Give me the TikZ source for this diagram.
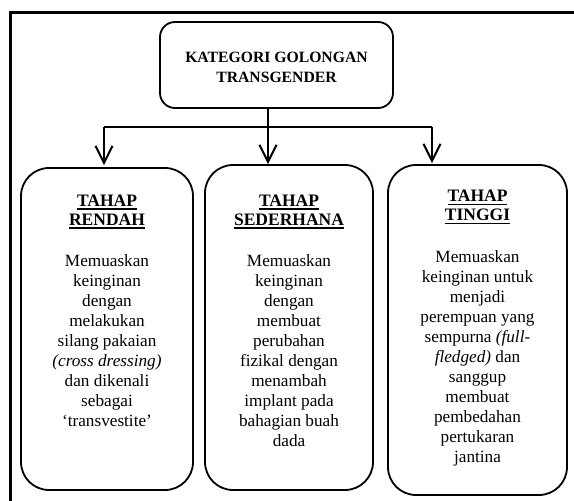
\documentclass[tikz,border=0pt]{standalone}
\usepackage{fontspec}
\setmainfont{Liberation Serif}
\usetikzlibrary{arrows.meta}
\newcommand\tul[1]{\leavevmode\vtop{\hbox{#1}\kern1.8pt\hrule height 1.6pt}}
\begin{document}
\begin{tikzpicture}[x=1pt,y=-1pt,
  box/.style={draw, line width=1.8pt, rounded corners=28pt, inner sep=0pt},
  conn/.style={line width=2pt},
  arr/.style={conn, -{Straight Barb[length=17pt,width=17pt,line width=2pt]}},
  ttl/.style={anchor=north, inner sep=0pt, align=center, font=\fontsize{17.5}{19}\selectfont\bfseries},
  body/.style={anchor=north, inner sep=0pt, align=center, font=\fontsize{17.2}{20}\selectfont}]
\useasboundingbox (0,0) rectangle (574,501);
\fill[white] (0,0) rectangle (574,501);
\draw[line width=3pt] (10,505) -- (10,12) -- (580,12);
% top box
\node[box, rounded corners=15pt, minimum width=233pt, minimum height=86pt] (top) at (276.5,65) {};
\node[inner sep=0pt, align=center, font=\fontsize{15.7}{20}\selectfont\bfseries] (toptext) at (276.5,67.8) {KATEGORI GOLONGAN\\TRANSGENDER};
% three boxes
\node[box, minimum width=172pt, minimum height=322pt] (b1) at (107,329) {};
\node[box, minimum width=168pt, minimum height=325pt] (b2) at (289,327.5) {};
\node[box, minimum width=179pt, minimum height=330pt] (b3) at (477.5,330) {};
\node[ttl] (t1) at (107,194.5) {\tul{TAHAP}\\\tul{RENDAH}};
\node[ttl] (t2) at (289,194.5) {\tul{TAHAP}\\\tul{SEDERHANA}};
\node[ttl] (t3) at (477.5,190) {\tul{TAHAP}\\\tul{TINGGI}};
\node[body] (d1) at (107,254.5) {Memuaskan\\keinginan\\dengan\\melakukan\\silang pakaian\\\textit{(cross dressing)}\\dan dikenali\\sebagai\\‘transvestite’};
\node[body] (d2) at (289,254.5) {Memuaskan\\keinginan\\dengan\\membuat\\perubahan\\fizikal dengan\\menambah\\implant pada\\bahagian buah\\dada};
\node[body] (d3) at (477.5,250.5) {Memuaskan\\keinginan untuk\\menjadi\\perempuan yang\\sempurna \textit{(full-}\\\textit{fledged)} dan\\sanggup\\membuat\\pembedahan\\pertukaran\\jantina};
% connectors
\coordinate (j) at (268,126.5);
\coordinate (jl) at (104,126.5);
\coordinate (jr) at (432,126.5);
\draw[conn] (top.south -| j) -- (j);
\draw[conn] (jl) -- (jr);
\draw[arr, shorten >=2pt] (jl) -- (b1.north -| jl);
\draw[arr] (j) -- (b2.north -| j);
\draw[arr, shorten >=1pt] (jr) -- (b3.north -| jr);
\end{tikzpicture}
\end{document}
